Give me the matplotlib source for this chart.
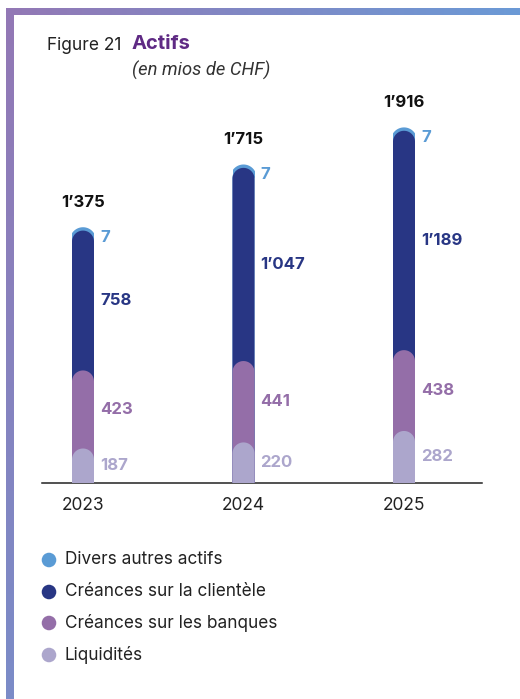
import numpy as np
import matplotlib
matplotlib.use("Agg")
import matplotlib.pyplot as plt
from matplotlib.patches import Polygon, Rectangle
from matplotlib.colors import LinearSegmentedColormap
import matplotlib.transforms as mtrans

# ---------------- data ----------------
years = ["2023", "2024", "2025"]
liquidites = [187, 220, 282]
banques = [423, 441, 438]
clientele = [758, 1047, 1189]
divers = [7, 7, 7]
series_names = ["Divers autres actifs", "Créances sur la clientèle",
                "Créances sur les banques", "Liquidités"]
series_colors = ["#5a9bd5", "#283684", "#946ea8", "#aca6cc"]

plt.rcParams["font.family"] = ["Inter", "DejaVu Sans"]

W, H = 520, 699
fig = plt.figure(figsize=(W / 100, H / 100), dpi=100)
fig.patch.set_facecolor("white")

# ---------------- decorative frame ----------------
bg = fig.add_axes([0, 0, 1, 1], zorder=0)
bg.set_xlim(0, W)
bg.set_ylim(H, 0)
bg.axis("off")
cm_top = LinearSegmentedColormap.from_list("top", ["#9378b5", "#6b9ad6"])
cm_left = LinearSegmentedColormap.from_list("left", ["#9378b5", "#7b8cc8"])
grad = np.linspace(0, 1, 256)
bg.imshow(grad[None, :], cmap=cm_top, extent=(6, W, 15, 8), aspect="auto", zorder=1)
bg.imshow(grad[:, None], cmap=cm_left, extent=(6, 14, H, 8), aspect="auto", zorder=1)

# ---------------- titles ----------------
def fx(px):
    return px / W

def fy(py):
    return 1 - py / H

fig.text(fx(47), fy(45), "Figure 21", fontsize=12.5, color="#222222", va="center", ha="left")
fig.text(fx(132), fy(44), "Actifs", fontsize=14.5, fontweight="bold", color="#5f2a84",
         va="center", ha="left")
fig.text(fx(132), fy(70), "(en mios de CHF)", fontsize=13.2, style="italic", color="#333333",
         va="center", ha="left", family=["Roboto", "DejaVu Sans"])

# ---------------- main axes ----------------
base_px = 483
top_px = 90
ax_left, ax_right = 42, 482
ax = fig.add_axes([fx(ax_left), (H - base_px) / H, (ax_right - ax_left) / W, (base_px - top_px) / H],
                  zorder=2)
ax.patch.set_alpha(0)
px_per_unit = 0.1845
ymax = (base_px - top_px) / px_per_unit
x_unit_px = 160.5
xmin = -(83 - ax_left) / x_unit_px
xmax = 2 + (ax_right - 404) / x_unit_px
ax.set_xlim(xmin, xmax)
ax.set_ylim(0, ymax)
for s in ["top", "right", "left"]:
    ax.spines[s].set_visible(False)
ax.spines["bottom"].set_color("#222222")
ax.spines["bottom"].set_linewidth(1.1)
ax.set_yticks([])
x = np.arange(len(years))
ax.set_xticks(x)
ax.set_xticklabels(years, fontsize=12.5, color="#222222")
ax.tick_params(axis="x", length=0, pad=10)

bar_w_px = 22
bar_w = bar_w_px / x_unit_px
ry = (bar_w_px / 2) / px_per_unit


def arc(xc, h):
    r = min(ry, h)
    a = np.linspace(np.pi, 0, 60)
    return xc + (bar_w / 2) * np.cos(a), h - r + r * np.sin(a)


def rounded_bar(xc, h, color, z):
    ax_, ay_ = arc(xc, h)
    xs = np.concatenate([[xc - bar_w / 2], ax_, [xc + bar_w / 2]])
    ys = np.concatenate([[0], ay_, [0]])
    ax.add_patch(Polygon(np.column_stack([xs, ys]), closed=True, facecolor=color,
                         edgecolor="none", zorder=z))


def fmt(v):
    return f"{v:,}".replace(",", "\u2019")

label_off = mtrans.offset_copy(ax.transData, fig=fig, x=6, y=0, units="dots")
fs_val = 12

for i in range(len(years)):
    c1 = liquidites[i]
    c2 = c1 + banques[i]
    c3 = c2 + clientele[i]
    c4 = c3 + divers[i]
    tops = [c4, c3, c2, c1]
    for k, (h, col) in enumerate(zip(tops, series_colors)):
        rounded_bar(x[i], h, col, 3 + k)
    # thin stroke on the top segment's cap (clipped to bar width) so it stays visible
    axc, ayc = arc(x[i], c4)
    ln, = ax.plot(axc, ayc, color=series_colors[0], lw=3, solid_capstyle="butt", zorder=2.9)
    clip = Rectangle((x[i] - bar_w / 2, 0), bar_w, c4 * 1.2, transform=ax.transData)
    ln.set_clip_path(clip)
    xr = x[i] + bar_w / 2
    # value labels
    t_div = mtrans.offset_copy(ax.transData, fig=fig, x=6, y=-8, units="dots")
    ax.text(xr, c4, fmt(divers[i]), transform=t_div, color=series_colors[0],
            fontsize=fs_val, fontweight="bold", va="center", ha="left")
    ax.text(xr, (c2 + c3) / 2, fmt(clientele[i]), transform=label_off, color=series_colors[1],
            fontsize=fs_val, fontweight="bold", va="center", ha="left")
    ax.text(xr, (c1 + c2) / 2, fmt(banques[i]), transform=label_off, color=series_colors[2],
            fontsize=fs_val, fontweight="bold", va="center", ha="left")
    ax.text(xr, c1 / 2, fmt(liquidites[i]), transform=label_off, color=series_colors[3],
            fontsize=fs_val, fontweight="bold", va="center", ha="left")
    t_tot = mtrans.offset_copy(ax.transData, fig=fig, x=0, y=27, units="dots")
    ax.text(x[i], c4, fmt(c4), transform=t_tot, color="#111111",
            fontsize=fs_val, fontweight="bold", va="center", ha="center")

# ---------------- legend ----------------
leg_y = [560, 592, 623, 655]
for name, col, yy in zip(series_names, series_colors, leg_y):
    bg.scatter([49], [yy], s=110, color=col, edgecolors="none", zorder=3)
    bg.text(65, yy, name, fontsize=12.4, color="#222222", va="center", ha="left", zorder=3)

fig.savefig("out.png", dpi=100, facecolor="white")
